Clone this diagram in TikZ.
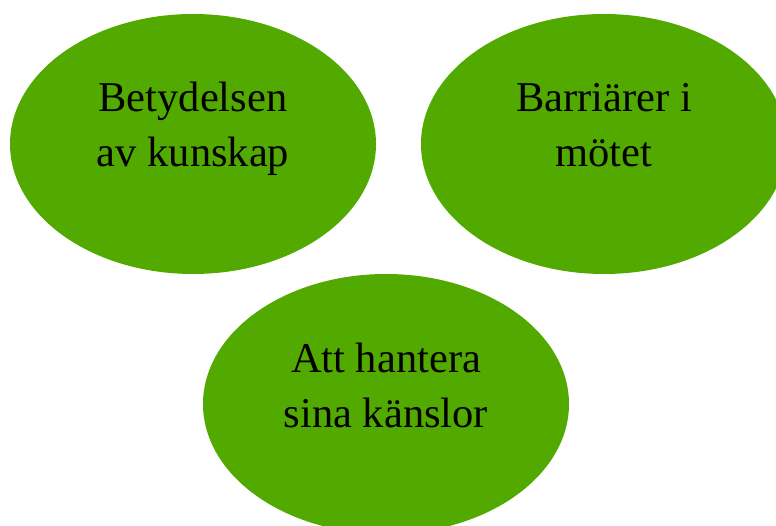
\documentclass[tikz,border=0pt]{standalone}
\usepackage{fontspec}
\setmainfont{Liberation Serif}
\usetikzlibrary{shapes.geometric}
\definecolor{leaf}{RGB}{82,170,0}
\tikzset{
  blob/.style={ellipse, fill=leaf, draw=none, inner sep=0pt,
    minimum width=366pt, minimum height=260pt},
  txt/.style={anchor=base, inner sep=0pt, font=\fontsize{42.5}{55}\selectfont}
}
\begin{document}
\begin{tikzpicture}[x=1pt,y=-1pt]
\useasboundingbox (0,0) rectangle (776,526);
\clip (0,0) rectangle (776,526);
\node[blob] (e1) at (193,144) {};
\node[blob] (e2) at (604,144) {};
\node[blob] (e3) at (386,404) {};
\node[txt] (t1a) at (193,112) {Betydelsen};
\node[txt] (t1b) at (193,167) {av kunskap};
\node[txt] (t2a) at (604,112) {Barriärer i};
\node[txt] (t2b) at (604,167) {mötet};
\node[txt] (t3a) at (386,372) {Att hantera};
\node[txt] (t3b) at (386,427) {sina känslor};
\end{tikzpicture}
\end{document}
